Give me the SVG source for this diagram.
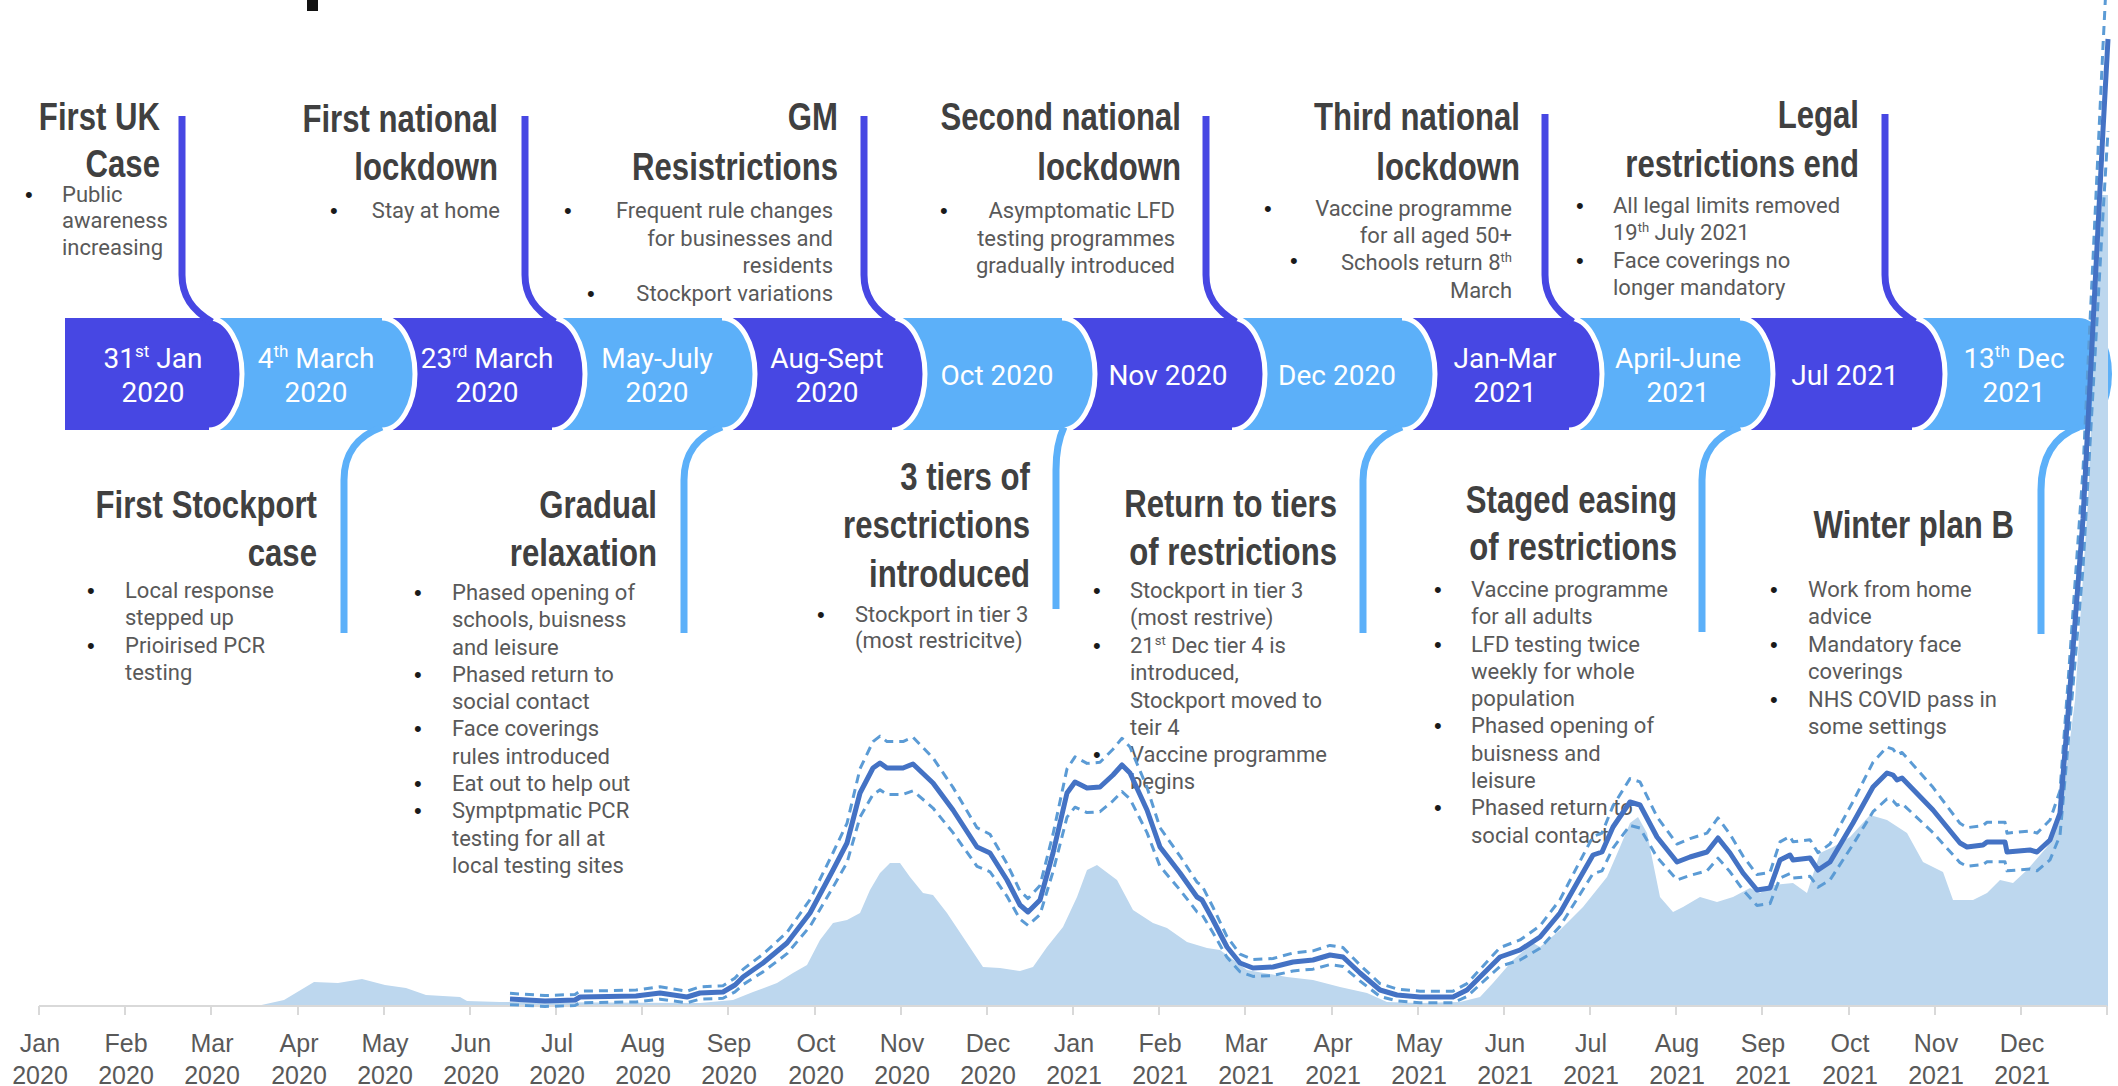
<svg xmlns="http://www.w3.org/2000/svg" width="2118" height="1086" viewBox="0 0 2118 1086">
<style>
.h{font-family:"Liberation Sans",Arial,sans-serif;font-weight:bold;font-size:38px;fill:#404040;text-anchor:end}
.b{font-family:Roboto,"Liberation Sans",sans-serif;font-size:22px;fill:#595959}
.be{font-family:Roboto,"Liberation Sans",sans-serif;font-size:22px;fill:#595959;text-anchor:end}
.dot{font-family:"Liberation Sans",sans-serif;font-size:22px;fill:#1a1a1a}
.lbl{font-family:Roboto,"Liberation Sans",sans-serif;font-size:28px;fill:#fff;text-anchor:middle}
.dk{fill:#4747E3}
.lt{fill:#5CB0F9}
.sep{fill:none;stroke:#fff;stroke-width:5}
.ct{fill:none;stroke:#4747E3;stroke-width:7}
.cb{fill:none;stroke:#5CB0F9;stroke-width:7}
.ax{font-family:"Liberation Sans",Arial,sans-serif;font-size:25px;fill:#595959;text-anchor:middle}
.tk{stroke:#D9D9D9;stroke-width:2}
.dash{fill:none;stroke:#5B9BD5;stroke-width:3;stroke-dasharray:9 6;stroke-linejoin:round}
.solid{fill:none;stroke:#4472C4;stroke-width:5;stroke-linejoin:round}
</style>
<defs>
<path id="trend" vector-effect="non-scaling-stroke" d="M510,999 L545,1001 575,1000 580,997 636,996 660,993 687,997 700,993 723,992 735,985 743,977 763,963 787,943 810,913 833,870 847,843 860,793 873,768 880,763 887,768 903,768 913,764 933,783 953,810 977,847 990,853 1007,880 1020,905 1028,912 1040,900 1053,853 1067,793 1075,782 1087,788 1100,787 1113,775 1122,765 1130,773 1147,810 1160,847 1180,873 1197,897 1202,900 1213,920 1227,947 1240,963 1253,968 1273,967 1293,962 1313,960 1330,955 1343,957 1360,973 1380,990 1397,995 1420,997 1453,997 1467,990 1480,977 1500,957 1520,950 1540,937 1560,913 1577,883 1593,855 1602,852 1613,827 1630,802 1640,805 1657,837 1677,862 1690,857 1707,852 1718,838 1730,853 1743,873 1757,890 1770,888 1780,860 1790,855 1793,860 1810,858 1818,870 1830,862 1853,823 1873,787 1887,773 1893,775 1897,780 1902,778 1933,810 1960,843 1967,847 1983,845 1987,842 2005,842 2007,852 2030,850 2037,852 2050,840 2060,813 2068,714 2083,519 2093,325 2103,130 2108,39"/>
</defs>
<rect width="2118" height="1086" fill="#fff"/>
<rect x="307" y="0" width="11" height="11" fill="#111"/>

<!-- band segments, drawn right to left -->
<g id="seg-13dec-2021"><path class="lt" d="M1885,318 H2079 A33 56 0 0 1 2079,430 H1885 Z"/><text class="lbl" x="2014" y="368">13<tspan font-size="17" dy="-11">th</tspan><tspan dy="11"> Dec</tspan></text><text class="lbl" x="2014" y="402">2021</text></g>
<g id="seg-jul-2021"><path class="dk" d="M1713,318 H1912 A33 56 0 0 1 1912,430 H1713 Z"/><path class="sep" d="M1912,318 A33 56 0 0 1 1912,430"/><text class="lbl" x="1845" y="385">Jul 2021</text></g>
<g id="seg-apr-jun-2021"><path class="lt" d="M1542,318 H1740 A33 56 0 0 1 1740,430 H1542 Z"/><path class="sep" d="M1740,318 A33 56 0 0 1 1740,430"/><text class="lbl" x="1678" y="368">April-June</text><text class="lbl" x="1678" y="402">2021</text></g>
<g id="seg-jan-mar-2021"><path class="dk" d="M1375,318 H1569 A33 56 0 0 1 1569,430 H1375 Z"/><path class="sep" d="M1569,318 A33 56 0 0 1 1569,430"/><text class="lbl" x="1505" y="368">Jan-Mar</text><text class="lbl" x="1505" y="402">2021</text></g>
<g id="seg-dec-2020"><path class="lt" d="M1205,318 H1402 A33 56 0 0 1 1402,430 H1205 Z"/><path class="sep" d="M1402,318 A33 56 0 0 1 1402,430"/><text class="lbl" x="1337" y="385">Dec 2020</text></g>
<g id="seg-nov-2020"><path class="dk" d="M1035,318 H1232 A33 56 0 0 1 1232,430 H1035 Z"/><path class="sep" d="M1232,318 A33 56 0 0 1 1232,430"/><text class="lbl" x="1168" y="385">Nov 2020</text></g>
<g id="seg-oct-2020"><path class="lt" d="M865,318 H1062 A33 56 0 0 1 1062,430 H865 Z"/><path class="sep" d="M1062,318 A33 56 0 0 1 1062,430"/><text class="lbl" x="997" y="385">Oct 2020</text></g>
<g id="seg-aug-sept-2020"><path class="dk" d="M695,318 H892 A33 56 0 0 1 892,430 H695 Z"/><path class="sep" d="M892,318 A33 56 0 0 1 892,430"/><text class="lbl" x="827" y="368">Aug-Sept</text><text class="lbl" x="827" y="402">2020</text></g>
<g id="seg-may-july-2020"><path class="lt" d="M525,318 H722 A33 56 0 0 1 722,430 H525 Z"/><path class="sep" d="M722,318 A33 56 0 0 1 722,430"/><text class="lbl" x="657" y="368">May-July</text><text class="lbl" x="657" y="402">2020</text></g>
<g id="seg-23mar-2020"><path class="dk" d="M355,318 H552 A33 56 0 0 1 552,430 H355 Z"/><path class="sep" d="M552,318 A33 56 0 0 1 552,430"/><text class="lbl" x="487" y="368">23<tspan font-size="17" dy="-11">rd</tspan><tspan dy="11"> March</tspan></text><text class="lbl" x="487" y="402">2020</text></g>
<g id="seg-4mar-2020"><path class="lt" d="M182,318 H382 A33 56 0 0 1 382,430 H182 Z"/><path class="sep" d="M382,318 A33 56 0 0 1 382,430"/><text class="lbl" x="316" y="368">4<tspan font-size="17" dy="-11">th</tspan><tspan dy="11"> March</tspan></text><text class="lbl" x="316" y="402">2020</text></g>
<g id="seg-31jan-2020"><path class="dk" d="M65,318 H209 A33 56 0 0 1 209,430 H65 Z"/><path class="sep" d="M209,318 A33 56 0 0 1 209,430"/><text class="lbl" x="153" y="368">31<tspan font-size="17" dy="-11">st</tspan><tspan dy="11"> Jan</tspan></text><text class="lbl" x="153" y="402">2020</text></g>

<g id="connectors">
<path class="ct" d="M182,116 V275 C182,296 192,310 212,322"/>
<path class="ct" d="M525,116 V275 C525,296 535,310 555,322"/>
<path class="ct" d="M864,116 V275 C864,296 874,310 894,322"/>
<path class="ct" d="M1206,116 V275 C1206,296 1216,310 1236,322"/>
<path class="ct" d="M1545,114 V275 C1545,296 1555,310 1573,322"/>
<path class="ct" d="M1885,114 V275 C1885,296 1895,310 1915,322"/>
<path class="cb" d="M382,427 C358,436 344,452 344,480 V633"/>
<path class="cb" d="M722,427 C698,436 684,452 684,480 V633"/>
<path class="cb" d="M1064,427 C1058,440 1056,452 1056,470 V609"/>
<path class="cb" d="M1402,427 C1378,436 1363,452 1363,480 V633"/>
<path class="cb" d="M1740,427 C1716,436 1702,452 1702,480 V632"/>
<path class="cb" d="M2079,427 C2055,436 2041,455 2041,490 V634"/>
</g>

<g id="note-first-uk-case">
<text class="h" transform="translate(160 130) scale(.82 1)">First UK</text><text class="h" transform="translate(160 177) scale(.82 1)">Case</text>
<text class="dot" x="25" y="202">•</text>
<text class="b" x="62" y="202">Public</text><text class="b" x="62" y="228">awareness</text><text class="b" x="62" y="255">increasing</text>
</g>
<g id="note-first-national-lockdown">
<text class="h" transform="translate(498 132) scale(.82 1)">First national</text><text class="h" transform="translate(498 180) scale(.82 1)">lockdown</text>
<text class="dot" x="330" y="218">•</text><text class="be" x="500" y="218">Stay at home</text>
</g>
<g id="note-gm-restrictions">
<text class="h" transform="translate(838 130) scale(.82 1)">GM</text><text class="h" transform="translate(838 180) scale(.82 1)">Resistrictions</text>
<text class="dot" x="564" y="218">•</text><text class="dot" x="587" y="301">•</text>
<text class="be" x="833" y="218">Frequent rule changes</text><text class="be" x="833" y="246">for businesses and</text><text class="be" x="833" y="273">residents</text><text class="be" x="833" y="301">Stockport variations</text>
</g>
<g id="note-second-national-lockdown">
<text class="h" transform="translate(1181 130) scale(.82 1)">Second national</text><text class="h" transform="translate(1181 180) scale(.82 1)">lockdown</text>
<text class="dot" x="940" y="218">•</text>
<text class="be" x="1175" y="218">Asymptomatic LFD</text><text class="be" x="1175" y="246">testing programmes</text><text class="be" x="1175" y="273">gradually introduced</text>
</g>
<g id="note-third-national-lockdown">
<text class="h" transform="translate(1520 130) scale(.82 1)">Third national</text><text class="h" transform="translate(1520 180) scale(.82 1)">lockdown</text>
<text class="dot" x="1264" y="216">•</text><text class="dot" x="1290" y="268">•</text>
<text class="be" x="1512" y="216">Vaccine programme</text><text class="be" x="1512" y="243">for all aged 50+</text><text class="be" x="1512" y="270">Schools return 8<tspan font-size="13" dy="-8">th</tspan></text><text class="be" x="1512" y="298">March</text>
</g>
<g id="note-legal-restrictions-end">
<text class="h" transform="translate(1859 128) scale(.82 1)">Legal</text><text class="h" transform="translate(1859 177) scale(.82 1)">restrictions end</text>
<text class="dot" x="1576" y="213">•</text><text class="dot" x="1576" y="268">•</text>
<text class="b" x="1613" y="213">All legal limits removed</text><text class="b" x="1613" y="240">19<tspan font-size="13" dy="-8">th</tspan><tspan dy="8"> July 2021</tspan></text><text class="b" x="1613" y="268">Face coverings no</text><text class="b" x="1613" y="295">longer mandatory</text>
</g>

<g id="note-first-stockport-case">
<text class="h" transform="translate(317 518) scale(.82 1)">First Stockport</text><text class="h" transform="translate(317 566) scale(.82 1)">case</text>
<text class="dot" x="87" y="598">•</text><text class="dot" x="87" y="653">•</text>
<text class="b" x="125" y="598">Local response</text><text class="b" x="125" y="625">stepped up</text><text class="b" x="125" y="653">Prioirised PCR</text><text class="b" x="125" y="680">testing</text>
</g>
<g id="note-gradual-relaxation">
<text class="h" transform="translate(657 518) scale(.82 1)">Gradual</text><text class="h" transform="translate(657 566) scale(.82 1)">relaxation</text>
<text class="dot" x="414" y="600">•</text><text class="dot" x="414" y="682">•</text><text class="dot" x="414" y="736">•</text><text class="dot" x="414" y="791">•</text><text class="dot" x="414" y="818">•</text>
<text class="b" x="452" y="600">Phased opening of</text><text class="b" x="452" y="627">schools, buisness</text><text class="b" x="452" y="655">and leisure</text><text class="b" x="452" y="682">Phased return to</text><text class="b" x="452" y="709">social contact</text><text class="b" x="452" y="736">Face coverings</text><text class="b" x="452" y="764">rules introduced</text><text class="b" x="452" y="791">Eat out to help out</text><text class="b" x="452" y="818">Symptpmatic PCR</text><text class="b" x="452" y="846">testing for all at</text><text class="b" x="452" y="873">local testing sites</text>
</g>
<g id="note-3-tiers">
<text class="h" transform="translate(1030 490) scale(.82 1)">3 tiers of</text><text class="h" transform="translate(1030 538) scale(.82 1)">resctrictions</text><text class="h" transform="translate(1030 587) scale(.82 1)">introduced</text>
<text class="dot" x="817" y="622">•</text>
<text class="b" x="855" y="622">Stockport in tier 3</text><text class="b" x="855" y="648">(most restricitve)</text>
</g>
<g id="note-return-to-tiers">
<text class="h" transform="translate(1337 517) scale(.82 1)">Return to tiers</text><text class="h" transform="translate(1337 565) scale(.82 1)">of restrictions</text>
<text class="dot" x="1093" y="598">•</text><text class="dot" x="1093" y="653">•</text><text class="dot" x="1093" y="762">•</text>
<text class="b" x="1130" y="598">Stockport in tier 3</text><text class="b" x="1130" y="625">(most restrive)</text><text class="b" x="1130" y="653">21<tspan font-size="13" dy="-8">st</tspan><tspan dy="8"> Dec tier 4 is</tspan></text><text class="b" x="1130" y="680">introduced,</text><text class="b" x="1130" y="708">Stockport moved to</text><text class="b" x="1130" y="735">teir 4</text><text class="b" x="1130" y="762">Vaccine programme</text><text class="b" x="1130" y="789">begins</text>
</g>
<g id="note-staged-easing">
<text class="h" transform="translate(1677 513) scale(.82 1)">Staged easing</text><text class="h" transform="translate(1677 560) scale(.82 1)">of restrictions</text>
<text class="dot" x="1434" y="597">•</text><text class="dot" x="1434" y="652">•</text><text class="dot" x="1434" y="733">•</text><text class="dot" x="1434" y="815">•</text>
<text class="b" x="1471" y="597">Vaccine programme</text><text class="b" x="1471" y="624">for all adults</text><text class="b" x="1471" y="652">LFD testing twice</text><text class="b" x="1471" y="679">weekly for whole</text><text class="b" x="1471" y="706">population</text><text class="b" x="1471" y="733">Phased opening of</text><text class="b" x="1471" y="761">buisness and</text><text class="b" x="1471" y="788">leisure</text><text class="b" x="1471" y="815">Phased return to</text><text class="b" x="1471" y="843">social contact</text>
</g>
<g id="note-winter-plan-b">
<text class="h" transform="translate(2014 538) scale(.82 1)">Winter plan B</text>
<text class="dot" x="1770" y="597">•</text><text class="dot" x="1770" y="652">•</text><text class="dot" x="1770" y="707">•</text>
<text class="b" x="1808" y="597">Work from home</text><text class="b" x="1808" y="624">advice</text><text class="b" x="1808" y="652">Mandatory face</text><text class="b" x="1808" y="679">coverings</text><text class="b" x="1808" y="707">NHS COVID pass in</text><text class="b" x="1808" y="734">some settings</text>
</g>

<g id="chart">
<path fill="#BDD7EE" d="M257,1006 L284,1000 314,982 338,983 362,979 385,985 406,988 426,995 460,997 467,1001 500,1002 700,1003 733,1000 753,992 777,983 793,973 807,965 820,940 833,923 847,920 860,913 870,890 880,873 890,863 900,863 910,877 923,893 933,895 947,913 967,943 983,967 1000,968 1020,971 1033,967 1047,947 1063,927 1077,897 1087,870 1097,865 1117,880 1133,910 1153,923 1167,928 1187,942 1207,948 1220,950 1247,970 1287,977 1313,980 1340,987 1367,993 1387,1002 1420,1003 1460,1002 1480,997 1493,983 1513,960 1533,943 1540,947 1560,930 1583,907 1607,877 1620,847 1630,823 1638,817 1647,833 1660,897 1673,912 1683,907 1700,897 1717,902 1733,897 1750,888 1760,893 1773,885 1793,883 1807,893 1820,853 1833,847 1850,837 1870,815 1887,820 1907,833 1923,862 1943,872 1953,900 1973,900 1987,893 2000,880 2013,883 2027,870 2047,847 2060,820 2075,700 2088,500 2096,300 2099,195 2108,195 2108,1006 Z"/>
<line class="tk" x1="39" y1="1006" x2="2107" y2="1006"/>
<path class="tk" fill="none" d="M39,1006v9M125,1006v9M211,1006v9M298,1006v9M384,1006v9M470,1006v9M556,1006v9M642,1006v9M728,1006v9M815,1006v9M901,1006v9M987,1006v9M1073,1006v9M1159,1006v9M1245,1006v9M1332,1006v9M1418,1006v9M1504,1006v9M1590,1006v9M1676,1006v9M1762,1006v9M1849,1006v9M1935,1006v9M2021,1006v9M2107,1006v9"/>
<g class="ax">
<text x="40" y="1052">Jan</text><text x="40" y="1084">2020</text>
<text x="126" y="1052">Feb</text><text x="126" y="1084">2020</text>
<text x="212" y="1052">Mar</text><text x="212" y="1084">2020</text>
<text x="299" y="1052">Apr</text><text x="299" y="1084">2020</text>
<text x="385" y="1052">May</text><text x="385" y="1084">2020</text>
<text x="471" y="1052">Jun</text><text x="471" y="1084">2020</text>
<text x="557" y="1052">Jul</text><text x="557" y="1084">2020</text>
<text x="643" y="1052">Aug</text><text x="643" y="1084">2020</text>
<text x="729" y="1052">Sep</text><text x="729" y="1084">2020</text>
<text x="816" y="1052">Oct</text><text x="816" y="1084">2020</text>
<text x="902" y="1052">Nov</text><text x="902" y="1084">2020</text>
<text x="988" y="1052">Dec</text><text x="988" y="1084">2020</text>
<text x="1074" y="1052">Jan</text><text x="1074" y="1084">2021</text>
<text x="1160" y="1052">Feb</text><text x="1160" y="1084">2021</text>
<text x="1246" y="1052">Mar</text><text x="1246" y="1084">2021</text>
<text x="1333" y="1052">Apr</text><text x="1333" y="1084">2021</text>
<text x="1419" y="1052">May</text><text x="1419" y="1084">2021</text>
<text x="1505" y="1052">Jun</text><text x="1505" y="1084">2021</text>
<text x="1591" y="1052">Jul</text><text x="1591" y="1084">2021</text>
<text x="1677" y="1052">Aug</text><text x="1677" y="1084">2021</text>
<text x="1763" y="1052">Sep</text><text x="1763" y="1084">2021</text>
<text x="1850" y="1052">Oct</text><text x="1850" y="1084">2021</text>
<text x="1936" y="1052">Nov</text><text x="1936" y="1084">2021</text>
<text x="2022" y="1052">Dec</text><text x="2022" y="1084">2021</text>
</g>
<use href="#trend" class="dash" transform="matrix(1 0 0 1.09 0 -95.54)"/>
<use href="#trend" class="dash" transform="matrix(1 0 0 0.91 0 95.54)"/>
<use href="#trend" class="solid"/>
</g>
</svg>
